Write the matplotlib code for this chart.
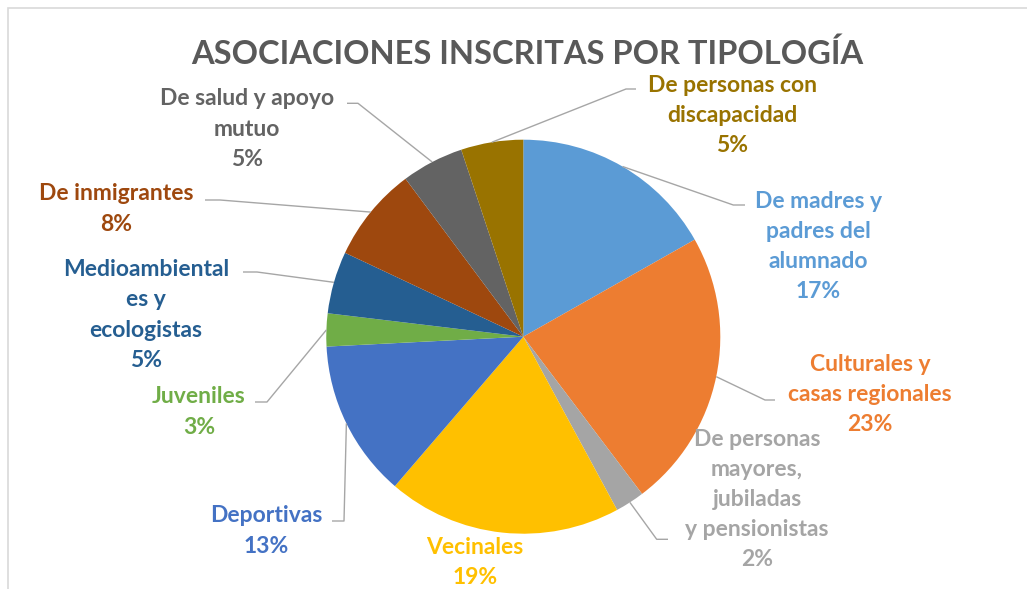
import numpy as np
import matplotlib
matplotlib.use("Agg")
import matplotlib.pyplot as plt
from matplotlib.patches import Rectangle

# ---------------- data ----------------
categories = [
    "De madres y\npadres del\nalumnado",
    "Culturales y\ncasas regionales",
    "De personas\nmayores,\njubiladas\ny pensionistas",
    "Vecinales",
    "Deportivas",
    "Juveniles",
    "Medioambiental\nes y\necologistas",
    "De inmigrantes",
    "De salud y apoyo\nmutuo",
    "De personas con\ndiscapacidad",
]
shares = [16.8, 22.9, 2.4, 19.2, 12.9, 2.7, 5.1, 7.8, 5.1, 5.1]
colors = ["#5B9BD5", "#ED7D31", "#A5A5A5", "#FFC000", "#4472C4",
          "#70AD47", "#255E91", "#9E480E", "#636363", "#997300"]
title = "ASOCIACIONES INSCRITAS POR TIPOLOGÍA"

# ---------------- layout (pixel units, image y from top) ----------------
W, H = 1027, 589
FONT = ["Lato", "DejaVu Sans"]
plt.rcParams["font.family"] = FONT

def Y(y):
    return H - y

cx, cy, R = 523.3, Y(336.7), 197.0

# label block centers, and leader (elbow, end) points; None = no leader
label_pos = [(818.5, 246.5), (870, 394.5), (757, 499.5), (475, 562.5), (266.5, 531),
             (199, 412), (146, 315), (116, 209), (247, 129), (732.5, 115.5)]
leaders = [((733.3, 205), (745, 205)),
           ((765, 400), (775, 400)),
           ((656.7, 539.3), (668, 539.3)),
           None,
           ((344, 521), (332, 521)),
           ((267, 402), (255, 402)),
           ((257, 272), (243, 272)),
           ((220, 200), (205, 200)),
           ((358, 103.3), (347, 103.3)),
           ((626, 89), (636, 89))]

fig = plt.figure(figsize=(W / 100, H / 100), dpi=100)
fig.patch.set_facecolor("white")
ax = fig.add_axes([0, 0, 1, 1])

wedges, _ = ax.pie(shares, colors=colors, startangle=90, counterclock=False,
                   center=(cx, cy), radius=R, wedgeprops=dict(linewidth=0))
ax.set_aspect("auto")
ax.set_xlim(0, W)
ax.set_ylim(0, H)
ax.axis("off")

# chart area border (only top/left visible in the crop)
ax.add_patch(Rectangle((7.5, -10), W + 20, Y(7.5) + 10, fill=False,
                       edgecolor="#D9D9D9", linewidth=1.2, zorder=0))

# title
ax.text(527, Y(54), title, ha="center", va="center", fontsize=23.5,
        fontweight="bold", color="#595959")

# labels and leaders
for w, cat, val, col, pos, ld in zip(wedges, categories, shares, colors,
                                      label_pos, leaders):
    ang = np.deg2rad((w.theta1 + w.theta2) / 2)
    ex, ey = cx + R * np.cos(ang), cy + R * np.sin(ang)
    if ld is not None:
        (bx, by), (tx, ty) = ld
        ax.plot([ex, bx, tx], [ey, Y(by), Y(ty)], color="#A6A6A6",
                linewidth=1.0, solid_capstyle="butt", zorder=3)
    ax.text(pos[0], Y(pos[1]), f"{cat}\n{val:.0f}%", ha="center", va="center",
            fontsize=16.5, fontweight="bold", color=col, linespacing=1.53,
            zorder=4)

fig.savefig("out.png", dpi=100, facecolor="white")
